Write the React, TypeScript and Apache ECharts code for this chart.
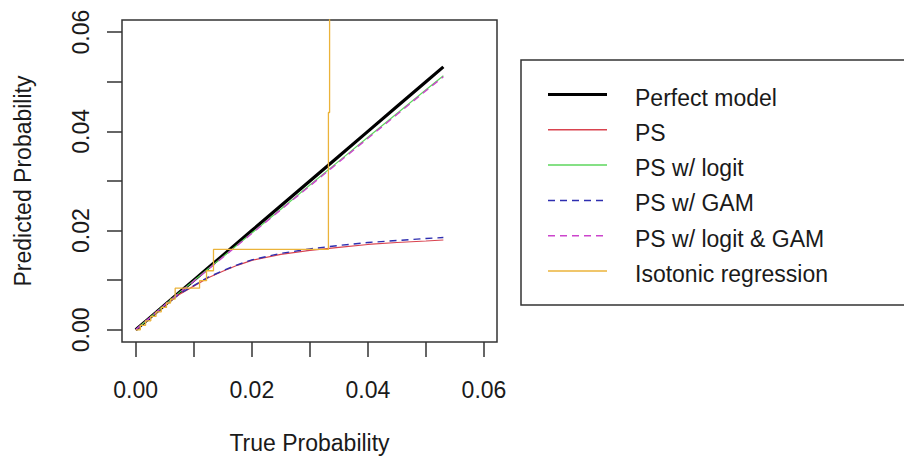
import React, { useEffect, useRef } from "react";
import * as echarts from "echarts";

// ---- data ----
const trueProb = [0, 0.0025, 0.005, 0.0075, 0.01, 0.0125, 0.015, 0.0175, 0.02, 0.025, 0.03, 0.035, 0.04, 0.045, 0.05, 0.053];
const perfectModel = [0, 0.0025, 0.005, 0.0075, 0.01, 0.0125, 0.015, 0.0175, 0.02, 0.025, 0.03, 0.035, 0.04, 0.045, 0.05, 0.053];
const psPred = [0, 0.0025, 0.005, 0.0071, 0.0088, 0.0105, 0.0118, 0.013, 0.014, 0.0152, 0.016, 0.0166, 0.0172, 0.0176, 0.0179, 0.0181];
const psLogitPred = [0, 0.0025, 0.005, 0.0075, 0.0099, 0.0123, 0.0147, 0.0171, 0.0195, 0.0243, 0.0292, 0.034, 0.0388, 0.0436, 0.0484, 0.0512];
const psGamPred = [0, 0.0025, 0.005, 0.0072, 0.0089, 0.0106, 0.0119, 0.0131, 0.0141, 0.0154, 0.0163, 0.017, 0.0176, 0.018, 0.0184, 0.0186];
const psLogitGamPred = [0, 0.0025, 0.005, 0.0074, 0.0098, 0.0122, 0.0146, 0.017, 0.0194, 0.0242, 0.029, 0.0338, 0.0386, 0.0434, 0.0482, 0.051];
const isoX = [0, 0.0008, 0.0017, 0.0026, 0.0035, 0.0044, 0.0053, 0.006, 0.0068, 0.011, 0.0122, 0.0134, 0.0332, 0.0334];
const isoY = [0, 0.0009, 0.0018, 0.0027, 0.0036, 0.0045, 0.0054, 0.0062, 0.0084, 0.0099, 0.0119, 0.0162, 0.0438, 0.09];

const seriesNames = ["Perfect model", "PS", "PS w/ logit", "PS w/ GAM", "PS w/ logit & GAM", "Isotonic regression"];
const seriesColors = ["#000000", "#D9434F", "#5CD65C", "#2E2EB0", "#CC44CC", "#EBB33A"];
const seriesWidths = [3.2, 1.2, 1.2, 1.4, 1.4, 1.3];
const seriesDashed = [false, false, false, true, true, false];

const xTicks = [0, 0.01, 0.02, 0.03, 0.04, 0.05, 0.06];
const xTickLabels = [0, 0.02, 0.04, 0.06];
const yTicks = [0, 0.01, 0.02, 0.03, 0.04, 0.05, 0.06];
const yTickLabels = [0, 0.02, 0.04, 0.06];

const FONT = "'Liberation Sans', Arial, sans-serif";
const TEXT = "#1a1a1a";
const AX = "#333333";

export default function App() {
  const ref = useRef<HTMLDivElement>(null);
  useEffect(() => {
    if (!ref.current) return;
    const chart = echarts.init(ref.current, undefined, { renderer: "svg" });
    const curves = [perfectModel, psPred, psLogitPred, psGamPred, psLogitGamPred];
    const series: any[] = curves.map((ys, i) => ({
      name: seriesNames[i],
      type: "line",
      data: trueProb.map((x, k) => [x, ys[k]]),
      showSymbol: false,
      symbol: "none",
      lineStyle: {
        color: seriesColors[i],
        width: seriesWidths[i],
        type: seriesDashed[i] ? [7, 5] : "solid",
      },
      z: i === 0 ? 2 : 3,
    }));
    series.push({
      name: seriesNames[5],
      type: "line",
      step: "end",
      data: isoX.map((x, k) => [x, isoY[k]]),
      showSymbol: false,
      symbol: "none",
      clip: true,
      lineStyle: { color: seriesColors[5], width: seriesWidths[5] },
      z: 3,
    });

    const legendTop = 94.5;
    const legendStep = 35.3;
    const legendEls: any[] = [
      {
        type: "rect",
        shape: { x: 521, y: 60, width: 420, height: 245 },
        style: { fill: "none", stroke: AX, lineWidth: 1.5 },
      },
    ];
    seriesNames.forEach((nm, i) => {
      const y = legendTop + i * legendStep;
      legendEls.push({
        type: "line",
        shape: { x1: 548, y1: y, x2: 607, y2: y },
        style: {
          stroke: seriesColors[i],
          lineWidth: i === 0 ? 3 : 1.5,
          lineDash: seriesDashed[i] ? [7, 5] : null,
        },
      });
      legendEls.push({
        type: "text",
        x: 635,
        y: y + 3,
        style: {
          text: nm,
          font: `23px ${FONT}`,
          fill: TEXT,
          textVerticalAlign: "middle",
          textAlign: "left",
        },
      });
    });

    chart.setOption({
      animation: false,
      backgroundColor: "#ffffff",
      grid: {
        left: 122,
        top: 20,
        right: 407,
        bottom: 114,
        show: true,
        borderColor: AX,
        borderWidth: 1.5,
        backgroundColor: "transparent",
      },
      xAxis: {
        type: "value",
        min: -0.00236,
        max: 0.06224,
        name: "True Probability",
        nameLocation: "middle",
        nameGap: 89,
        nameTextStyle: { fontSize: 23, fontFamily: FONT, color: TEXT },
        axisLine: { show: false, onZero: false },
        splitLine: { show: false },
        axisTick: { show: true, length: 15, customValues: xTicks, lineStyle: { color: AX, width: 1.5 } },
        axisLabel: {
          customValues: xTickLabels,
          formatter: (v: number) => v.toFixed(2),
          fontSize: 23,
          fontFamily: FONT,
          color: TEXT,
          margin: 36,
        },
      },
      yAxis: {
        type: "value",
        min: -0.00246,
        max: 0.06245,
        name: "Predicted Probability",
        nameLocation: "middle",
        nameGap: 88,
        nameTextStyle: { fontSize: 23, fontFamily: FONT, color: TEXT },
        axisLine: { show: false, onZero: false },
        splitLine: { show: false },
        axisTick: { show: true, length: 15, customValues: yTicks, lineStyle: { color: AX, width: 1.5 } },
        axisLabel: {
          customValues: yTickLabels,
          rotate: 90,
          formatter: (v: number) => v.toFixed(2),
          fontSize: 23,
          fontFamily: FONT,
          color: TEXT,
          margin: 30,
        },
      },
      series,
      graphic: legendEls,
    });
    return () => chart.dispose();
  }, []);
  return (
    <div
      ref={ref}
      style={{ position: "absolute", left: 0, top: 0, width: 904, height: 459, background: "#fff" }}
    />
  );
}
